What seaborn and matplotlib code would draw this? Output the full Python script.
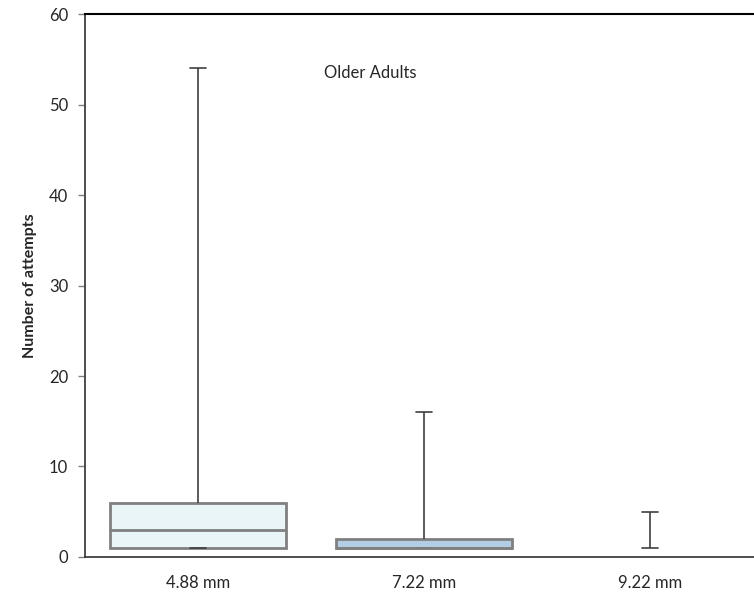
import pandas as pd
import matplotlib
matplotlib.use("Agg")
import matplotlib.pyplot as plt
import seaborn as sns

# five-number summaries
sizes = ["4.88 mm", "7.22 mm", "9.22 mm"]
mins = [1, 1, 1]
q1s = [1, 1, 1]
medians = [3, 1, 1]
q3s = [6, 2, 1]
maxs = [54, 16, 5]
fills = ["#EAF5F8", "#B3CDE4", "#FFFFFF"]

# long table: [min, q1, median, q3, max] gives exactly these quartiles
rows = []
for i, s in enumerate(sizes):
    for v in [mins[i], q1s[i], medians[i], q3s[i], maxs[i]]:
        rows.append({"size": s, "attempts": v})
df = pd.DataFrame(rows)

sns.set_style("white")
plt.rcParams["font.family"] = ["Lato", "DejaVu Sans"]

fig = plt.figure(figsize=(7.54, 5.94), dpi=100)
ax = fig.add_axes([0.1127, 0.0623, 0.8993, 0.9141])

sns.boxplot(
    data=df, x="size", y="attempts", hue="size", palette=fills, legend=False,
    saturation=1, whis=(0, 100), width=0.775, showfliers=False,
    linecolor="#808080", linewidth=2, capwidths=0.07,
    whiskerprops={"color": "#404040", "linewidth": 1.2},
    capprops={"color": "#404040", "linewidth": 1.2},
    medianprops={"color": "#808080", "linewidth": 2},
    ax=ax,
)

# last group has no visible box (zero height)
ax.patches[2].set_visible(False)
for ln in ax.lines:
    xd = ln.get_xdata()
    if len(xd) == 2 and abs(xd[1] - xd[0]) > 0.5 and (xd[0] + xd[1]) / 2 > 1.5:
        ln.set_visible(False)

ax.set_xlim(-0.5, 2.5)
ax.set_ylim(0, 60)
ax.set_yticks(range(0, 61, 10))
ax.set_xlabel("")
ax.set_ylabel("Number of attempts", fontsize=11.5, fontweight="bold", labelpad=9)

ax.set_xticks([-0.5, 0.5, 1.5, 2.5], minor=True)
ax.tick_params(axis="x", which="major", length=0, labelsize=12, pad=13)
ax.tick_params(axis="x", which="minor", length=5, color="#808080", width=1)
ax.tick_params(axis="y", length=5, color="#808080", width=1, labelsize=12,
               left=True, pad=7)

for side in ["left", "bottom"]:
    ax.spines[side].set_color("#404040")
    ax.spines[side].set_linewidth(1.3)
ax.spines["top"].set_color("black")
ax.spines["top"].set_linewidth(1.5)
ax.spines["right"].set_visible(False)

ax.text(0.42, 0.891, "Older Adults", transform=ax.transAxes,
        ha="center", va="center", fontsize=12)

fig.savefig("out.png", dpi=100)
